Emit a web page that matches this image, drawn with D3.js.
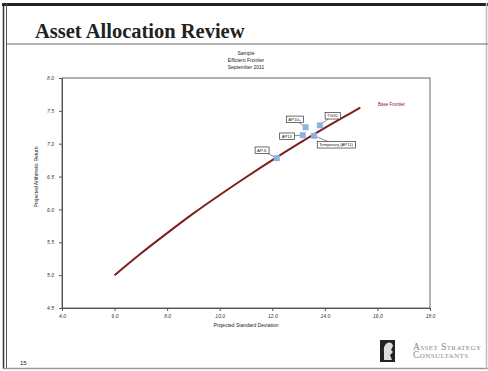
<!DOCTYPE html>
<html><head><meta charset="utf-8">
<script src="https://cdn.jsdelivr.net/npm/d3@7"></script>
<style>
body{margin:0;background:#fff;}
svg{display:block;}
</style></head>
<body><svg id="c" width="488" height="371"></svg>
<script>
// ---- data ----
const frontierSD  = [6.0, 7.0, 8.0, 9.0, 10.0, 11.0, 12.0, 13.0, 14.0, 15.0, 15.35];
const frontierRet = [5.00, 5.33, 5.64, 5.94, 6.22, 6.49, 6.75, 7.00, 7.24, 7.47, 7.55];
const portNames = ["AP-6", "AP13", "AP10+", "TG20", "Temporary (AP11)"];
const portSD    = [12.17, 13.16, 13.27, 13.81, 13.59];
const portRet   = [6.78, 7.13, 7.25, 7.28, 7.12];
const xTicks = [4, 6, 8, 10, 12, 14, 16, 18];
const yTicks = [4.5, 5.0, 5.5, 6.0, 6.5, 7.0, 7.5, 8.0];
const subtitle = ["Sample", "Efficient Frontier", "September 2011"];

// label offsets (styling) in px
const labelOffset = {"AP-6":[-15,-8], "AP13":[-16,1], "AP10+":[-11,-8], "TG20":[12.5,-9.5], "Temporary (AP11)":[22,9]};

const svg = d3.select("#c");
const W = 488, H = 371;

// page frame
svg.append("rect").attr("x",0).attr("y",0).attr("width",W).attr("height",H).attr("fill","#fff");
svg.append("line").attr("x1",2).attr("x2",W).attr("y1",4.5).attr("y2",4.5).attr("stroke","#222").attr("stroke-width",3);
svg.append("line").attr("x1",3.5).attr("x2",3.5).attr("y1",3).attr("y2",369).attr("stroke","#333").attr("stroke-width",1.5);
svg.append("line").attr("x1",6.5).attr("x2",6.5).attr("y1",3).attr("y2",369).attr("stroke","#555").attr("stroke-width",1);
svg.append("line").attr("x1",3).attr("x2",W).attr("y1",368.5).attr("y2",368.5).attr("stroke","#999").attr("stroke-width",1.5);
svg.append("line").attr("x1",486.5).attr("x2",486.5).attr("y1",3).attr("y2",369).attr("stroke","#bbb").attr("stroke-width",1.5);
svg.append("line").attr("x1",7).attr("x2",W).attr("y1",44).attr("y2",44).attr("stroke","#999").attr("stroke-width",1.6);

svg.append("text").attr("x",35).attr("y",37.5).text("Asset Allocation Review")
  .attr("font-family","Liberation Serif, serif").attr("font-weight","bold").attr("font-size",20.5).attr("fill","#222");

// subtitle
svg.append("g").selectAll("text").data(subtitle).join("text")
  .attr("x",246).attr("y",(d,i)=>54.5+i*7).attr("text-anchor","middle")
  .attr("font-family","Liberation Sans, Arial, sans-serif").attr("font-size",5).attr("fill","#222").text(d=>d);

// scales
const x = d3.scaleLinear().domain([4,18]).range([62,430]);
const y = d3.scaleLinear().domain([4.5,8]).range([308,78]);

const tickFont = g => g.selectAll("text").attr("font-family","Liberation Sans, Arial, sans-serif")
  .attr("font-size",5).attr("font-style","italic").attr("fill","#333");

// box
svg.append("rect").attr("x",x(4)).attr("y",y(8)).attr("width",x(18)-x(4)).attr("height",y(4.5)-y(8))
  .attr("fill","none").attr("stroke","#666").attr("stroke-width",1);

const xa = svg.append("g").attr("transform",`translate(0,${y(4.5)})`)
  .call(d3.axisBottom(x).tickValues(xTicks).tickFormat(d3.format(".1f")).tickSize(3).tickPadding(3));
xa.select(".domain").attr("stroke","#555");
xa.selectAll("line").attr("stroke","#555");
tickFont(xa);

const ya = svg.append("g").attr("transform",`translate(${x(4)},0)`)
  .call(d3.axisLeft(y).tickValues(yTicks).tickFormat(d3.format(".1f")).tickSize(3).tickPadding(5));
ya.select(".domain").attr("stroke","#555");
ya.selectAll("line").attr("stroke","#555");
tickFont(ya);

// axis titles
svg.append("text").attr("x",246).attr("y",327).attr("text-anchor","middle")
  .attr("font-family","Liberation Sans, Arial, sans-serif").attr("font-size",5).attr("fill","#222")
  .text("Projected Standard Deviation");
svg.append("text").attr("transform","translate(38,177) rotate(-90)").attr("text-anchor","middle")
  .attr("font-family","Liberation Sans, Arial, sans-serif").attr("font-size",5).attr("fill","#222")
  .text("Projected Arithmetic Return");

// frontier
const pts = frontierSD.map((d,i)=>[d, frontierRet[i]]);
svg.append("path").datum(pts)
  .attr("d", d3.line().x(d=>x(d[0])).y(d=>y(d[1])).curve(d3.curveMonotoneX))
  .attr("fill","none").attr("stroke","#7d1f1f").attr("stroke-width",2);

svg.append("text").attr("x",378).attr("y",105.5).text("Base Frontier")
  .attr("font-family","Liberation Sans, Arial, sans-serif").attr("font-size",4.5).attr("fill","#8b1a1a");

// portfolios
const ports = portNames.map((n,i)=>({n, sd:portSD[i], r:portRet[i]}));
const pg = svg.append("g");
ports.forEach(p=>{
  const px = x(p.sd), py = y(p.r);
  const [dx,dy] = labelOffset[p.n];
  pg.append("line").attr("x1",px).attr("y1",py).attr("x2",px+dx).attr("y2",py+dy)
    .attr("stroke","#444").attr("stroke-width",0.6);
});
ports.forEach(p=>{
  const px = x(p.sd), py = y(p.r);
  pg.append("rect").attr("x",px-3).attr("y",py-3).attr("width",6).attr("height",6).attr("fill","#8fb2e6");
});
ports.forEach(p=>{
  const px = x(p.sd), py = y(p.r);
  const [dx,dy] = labelOffset[p.n];
  const t = pg.append("text").attr("x",px+dx).attr("y",py+dy+1.5).attr("text-anchor","middle")
    .attr("font-family","Liberation Sans, Arial, sans-serif").attr("font-size",4.2).attr("fill","#222").text(p.n);
  const bb = t.node().getBBox();
  pg.insert("rect", function(){return t.node();}).attr("x",bb.x-2).attr("y",py+dy-3.2).attr("width",bb.width+4).attr("height",6.4)
    .attr("fill","#fff").attr("stroke","#333").attr("stroke-width",0.7);
});

// footer
svg.append("text").attr("x",20).attr("y",365).text("15")
  .attr("font-family","Liberation Sans, Arial, sans-serif").attr("font-size",6).attr("fill","#222");
const lg = svg.append("g");
lg.append("rect").attr("x",380).attr("y",340).attr("width",15).attr("height",22).attr("fill","#222");
lg.append("path").attr("d","M384,360 L384,352 Q383,346 387,343 Q392,341 393,346 L391,350 L393,352 L390,355 L392,360 Z")
  .attr("fill","#ddd");
lg.append("text").attr("x",413).attr("y",349.5).text("Asset Strategy")
  .attr("font-family","Liberation Serif, serif").attr("font-size",9.5).attr("font-variant","small-caps").attr("fill","#888").attr("letter-spacing",0.4);
lg.append("text").attr("x",413).attr("y",358).text("Consultants")
  .attr("font-family","Liberation Serif, serif").attr("font-size",9.5).attr("font-variant","small-caps").attr("fill","#888").attr("letter-spacing",0.4);
</script></body></html>
